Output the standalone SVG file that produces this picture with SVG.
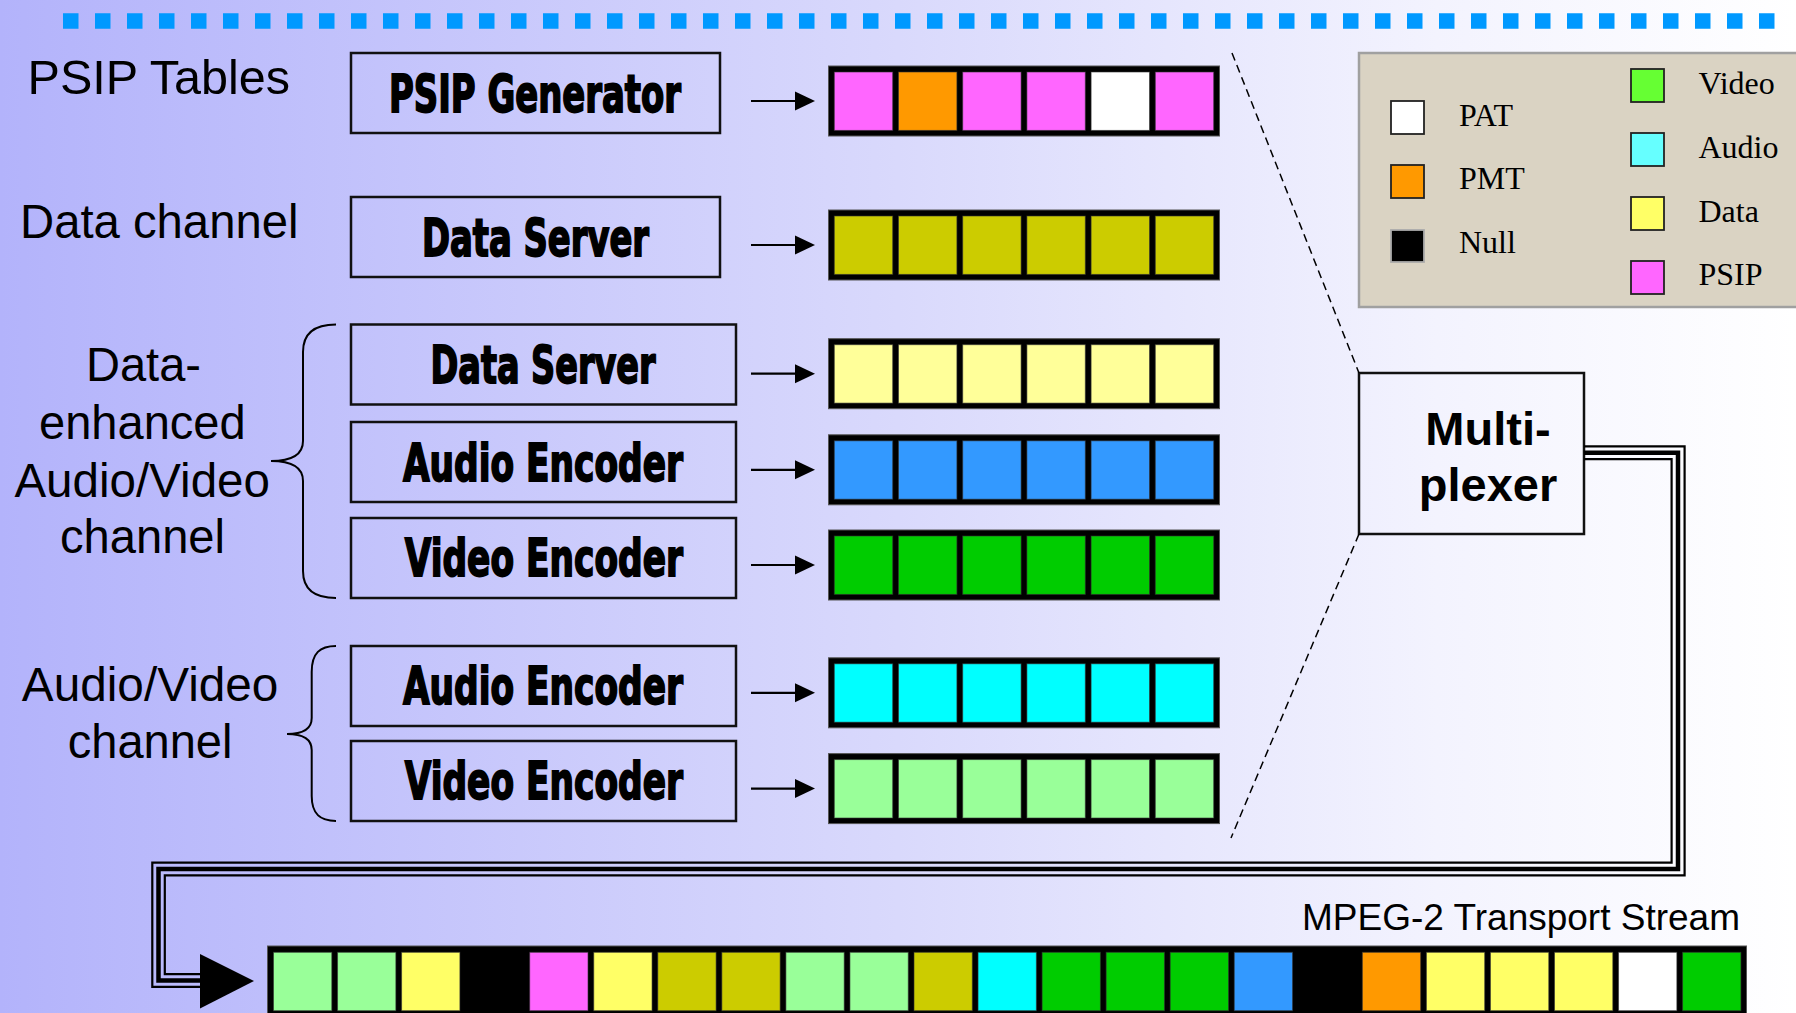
<svg xmlns="http://www.w3.org/2000/svg" width="1796" height="1013" viewBox="0 0 1796 1013">
<defs>
<linearGradient id="bg" x1="0" y1="0" x2="1" y2="0">
<stop offset="0" stop-color="#B3B3FB"/>
<stop offset="0.5" stop-color="#D9D9FC"/>
<stop offset="0.8" stop-color="#F3F3FE"/>
<stop offset="1" stop-color="#FFFFFF"/>
</linearGradient>
<style>
.lbl{font-family:"Liberation Sans",Arial,sans-serif;font-size:48px;fill:#000}
.bt{font-family:"DejaVu Sans Condensed","DejaVu Sans",sans-serif;font-weight:bold;font-size:52px;fill:#000;stroke:#000;stroke-width:1.8px}
.box{fill:none;stroke:#111;stroke-width:2.5}
.bar{fill:#000;stroke:#555;stroke-width:1}
.c{stroke:#333;stroke-width:1;stroke-opacity:0.6}
.arr{stroke:#000;stroke-width:2.2;fill:none}
.ah{fill:#000}
.lg{font-family:"Liberation Serif","Times New Roman",serif;font-size:32px;fill:#000}
.sw{stroke:#222;stroke-width:1.8}
.brace{fill:none;stroke:#000;stroke-width:2}
.dash{fill:none;stroke:#000;stroke-width:1.5;stroke-dasharray:8 5}
.thin{fill:none;stroke:#000;stroke-width:2.2}
.thick{fill:none;stroke:#000;stroke-width:4.5}
.pm{fill:#FF66FF}.po{fill:#FF9900}.pw{fill:#FFFFFF}.ol{fill:#CCCC00}.ly{fill:#FFFF99}.bl{fill:#3399FF}.gr{fill:#00CC00}.cy{fill:#00FFFF}.lgn{fill:#99FF99}.ye{fill:#FFFF66}
</style>
</defs>
<rect x="0" y="0" width="1796" height="1013" fill="url(#bg)"/>
<line x1="63" y1="21" x2="1776" y2="21" stroke="#0099FF" stroke-width="15.7" stroke-dasharray="15.5 16.5"/>

<g id="labels">
<text class="lbl" x="27.6" y="94" textLength="262.4" lengthAdjust="spacingAndGlyphs">PSIP Tables</text>
<text class="lbl" x="20" y="237.7" textLength="278.5" lengthAdjust="spacingAndGlyphs">Data channel</text>
<text class="lbl" x="86" y="381.4" textLength="115" lengthAdjust="spacingAndGlyphs">Data-</text>
<text class="lbl" x="39" y="439" textLength="206.7" lengthAdjust="spacingAndGlyphs">enhanced</text>
<text class="lbl" x="14.4" y="497" textLength="255.6" lengthAdjust="spacingAndGlyphs">Audio/Video</text>
<text class="lbl" x="60" y="553" textLength="165" lengthAdjust="spacingAndGlyphs">channel</text>
<text class="lbl" x="21.8" y="700.6" textLength="256.6" lengthAdjust="spacingAndGlyphs">Audio/Video</text>
<text class="lbl" x="67.7" y="757.7" textLength="164.8" lengthAdjust="spacingAndGlyphs">channel</text>
<path class="brace" d="M336,324.5 C316,324.5 303,332 303,352 L303,441 C303,455 292,461 271,461 C292,461 303,467 303,481 L303,571 C303,591 316,598 336,598"/>
<path class="brace" d="M336,646 C320,646 311.7,653 311.7,672 L311.7,718 C311.7,729 302,734 287,734 C302,734 311.7,739 311.7,750 L311.7,796 C311.7,814 320,821 336,821"/>
</g>

<g id="psip-generator">
<rect class="box" x="351" y="53" width="369" height="80"/>
<text class="bt" x="389" y="111.7" textLength="292" lengthAdjust="spacingAndGlyphs">PSIP Generator</text>
</g>
<g id="data-server-1">
<rect class="box" x="351" y="197" width="369" height="80"/>
<text class="bt" x="422" y="256" textLength="227" lengthAdjust="spacingAndGlyphs">Data Server</text>
</g>
<g id="data-server-2">
<rect class="box" x="351" y="324.5" width="385" height="80"/>
<text class="bt" x="430.5" y="383" textLength="225" lengthAdjust="spacingAndGlyphs">Data Server</text>
</g>
<g id="audio-encoder-1">
<rect class="box" x="351" y="422" width="385" height="80"/>
<text class="bt" x="403" y="480.6" textLength="280" lengthAdjust="spacingAndGlyphs">Audio Encoder</text>
</g>
<g id="video-encoder-1">
<rect class="box" x="351" y="518" width="385" height="80"/>
<text class="bt" x="404.7" y="576" textLength="278.3" lengthAdjust="spacingAndGlyphs">Video Encoder</text>
</g>
<g id="audio-encoder-2">
<rect class="box" x="351" y="646" width="385" height="80"/>
<text class="bt" x="403" y="704" textLength="280" lengthAdjust="spacingAndGlyphs">Audio Encoder</text>
</g>
<g id="video-encoder-2">
<rect class="box" x="351" y="741" width="385" height="80"/>
<text class="bt" x="404.7" y="798.8" textLength="278.3" lengthAdjust="spacingAndGlyphs">Video Encoder</text>
</g>

<g id="bar-psip">
<rect class="bar" x="828.5" y="66" width="391" height="70"/>
<rect class="c pm" x="834.3" y="72" width="58.4" height="58.4"/>
<rect class="c po" x="898.5" y="72" width="58.4" height="58.4"/>
<rect class="c pm" x="962.7" y="72" width="58.4" height="58.4"/>
<rect class="c pm" x="1026.9" y="72" width="58.4" height="58.4"/>
<rect class="c pw" x="1091.1" y="72" width="58.4" height="58.4"/>
<rect class="c pm" x="1155.3" y="72" width="58.4" height="58.4"/>
</g>
<g id="bar-data1">
<rect class="bar" x="828.5" y="210" width="391" height="70"/>
<rect class="c ol" x="834.3" y="216" width="58.4" height="58.4"/>
<rect class="c ol" x="898.5" y="216" width="58.4" height="58.4"/>
<rect class="c ol" x="962.7" y="216" width="58.4" height="58.4"/>
<rect class="c ol" x="1026.9" y="216" width="58.4" height="58.4"/>
<rect class="c ol" x="1091.1" y="216" width="58.4" height="58.4"/>
<rect class="c ol" x="1155.3" y="216" width="58.4" height="58.4"/>
</g>
<g id="bar-data2">
<rect class="bar" x="828.5" y="338.7" width="391" height="70"/>
<rect class="c ly" x="834.3" y="344.7" width="58.4" height="58.4"/>
<rect class="c ly" x="898.5" y="344.7" width="58.4" height="58.4"/>
<rect class="c ly" x="962.7" y="344.7" width="58.4" height="58.4"/>
<rect class="c ly" x="1026.9" y="344.7" width="58.4" height="58.4"/>
<rect class="c ly" x="1091.1" y="344.7" width="58.4" height="58.4"/>
<rect class="c ly" x="1155.3" y="344.7" width="58.4" height="58.4"/>
</g>
<g id="bar-audio1">
<rect class="bar" x="828.5" y="434.8" width="391" height="70"/>
<rect class="c bl" x="834.3" y="440.8" width="58.4" height="58.4"/>
<rect class="c bl" x="898.5" y="440.8" width="58.4" height="58.4"/>
<rect class="c bl" x="962.7" y="440.8" width="58.4" height="58.4"/>
<rect class="c bl" x="1026.9" y="440.8" width="58.4" height="58.4"/>
<rect class="c bl" x="1091.1" y="440.8" width="58.4" height="58.4"/>
<rect class="c bl" x="1155.3" y="440.8" width="58.4" height="58.4"/>
</g>
<g id="bar-video1">
<rect class="bar" x="828.5" y="530" width="391" height="70"/>
<rect class="c gr" x="834.3" y="536" width="58.4" height="58.4"/>
<rect class="c gr" x="898.5" y="536" width="58.4" height="58.4"/>
<rect class="c gr" x="962.7" y="536" width="58.4" height="58.4"/>
<rect class="c gr" x="1026.9" y="536" width="58.4" height="58.4"/>
<rect class="c gr" x="1091.1" y="536" width="58.4" height="58.4"/>
<rect class="c gr" x="1155.3" y="536" width="58.4" height="58.4"/>
</g>
<g id="bar-audio2">
<rect class="bar" x="828.5" y="657.8" width="391" height="70"/>
<rect class="c cy" x="834.3" y="663.8" width="58.4" height="58.4"/>
<rect class="c cy" x="898.5" y="663.8" width="58.4" height="58.4"/>
<rect class="c cy" x="962.7" y="663.8" width="58.4" height="58.4"/>
<rect class="c cy" x="1026.9" y="663.8" width="58.4" height="58.4"/>
<rect class="c cy" x="1091.1" y="663.8" width="58.4" height="58.4"/>
<rect class="c cy" x="1155.3" y="663.8" width="58.4" height="58.4"/>
</g>
<g id="bar-video2">
<rect class="bar" x="828.5" y="753.6" width="391" height="70"/>
<rect class="c lgn" x="834.3" y="759.6" width="58.4" height="58.4"/>
<rect class="c lgn" x="898.5" y="759.6" width="58.4" height="58.4"/>
<rect class="c lgn" x="962.7" y="759.6" width="58.4" height="58.4"/>
<rect class="c lgn" x="1026.9" y="759.6" width="58.4" height="58.4"/>
<rect class="c lgn" x="1091.1" y="759.6" width="58.4" height="58.4"/>
<rect class="c lgn" x="1155.3" y="759.6" width="58.4" height="58.4"/>
</g>

<g id="legend">
<rect x="1359" y="53" width="460" height="254" fill="#DAD3C3" stroke="#A0A0A0" stroke-width="2.5"/>
<rect class="sw" x="1391" y="101" width="33" height="33" fill="#FFFFFF"/>
<rect class="sw" x="1391" y="165" width="33" height="33" fill="#FF9900"/>
<rect x="1391" y="230" width="33" height="32" fill="#000" stroke="#AAA" stroke-width="1.8"/>
<text class="lg" x="1459" y="126">PAT</text>
<text class="lg" x="1459" y="188.5">PMT</text>
<text class="lg" x="1459" y="253.3">Null</text>
<rect class="sw" x="1631" y="69" width="33" height="33" fill="#66FF33"/>
<rect class="sw" x="1631" y="133" width="33" height="33" fill="#66FFFF"/>
<rect class="sw" x="1631" y="197" width="33" height="33" fill="#FFFF66"/>
<rect class="sw" x="1631" y="261" width="33" height="33" fill="#FF66FF"/>
<text class="lg" x="1698.5" y="94">Video</text>
<text class="lg" x="1698.5" y="158.3">Audio</text>
<text class="lg" x="1698.5" y="221.7">Data</text>
<text class="lg" x="1698.5" y="285">PSIP</text>
</g>

<g id="multiplexer">
<rect class="box" x="1359" y="373" width="225" height="161"/>
<text x="1488" y="444.8" text-anchor="middle" font-family="Liberation Sans, Arial, sans-serif" font-weight="bold" font-size="47">Multi-</text>
<text x="1488" y="501" text-anchor="middle" font-family="Liberation Sans, Arial, sans-serif" font-weight="bold" font-size="47">plexer</text>
</g>

<g id="transport-stream">
<text x="1740" y="930" text-anchor="end" font-family="Liberation Sans, Arial, sans-serif" font-size="37">MPEG-2 Transport Stream</text>
<rect class="bar" x="267.5" y="946" width="1479" height="80"/>
<rect class="c lgn" x="273.5" y="952.3" width="58.3" height="58.4"/>
<rect class="c lgn" x="337.55" y="952.3" width="58.3" height="58.4"/>
<rect class="c ye" x="401.6" y="952.3" width="58.3" height="58.4"/>
<rect class="c pm" x="529.7" y="952.3" width="58.3" height="58.4"/>
<rect class="c ye" x="593.75" y="952.3" width="58.3" height="58.4"/>
<rect class="c ol" x="657.8" y="952.3" width="58.3" height="58.4"/>
<rect class="c ol" x="721.85" y="952.3" width="58.3" height="58.4"/>
<rect class="c lgn" x="785.9" y="952.3" width="58.3" height="58.4"/>
<rect class="c lgn" x="849.95" y="952.3" width="58.3" height="58.4"/>
<rect class="c ol" x="914" y="952.3" width="58.3" height="58.4"/>
<rect class="c cy" x="978.05" y="952.3" width="58.3" height="58.4"/>
<rect class="c gr" x="1042.1" y="952.3" width="58.3" height="58.4"/>
<rect class="c gr" x="1106.15" y="952.3" width="58.3" height="58.4"/>
<rect class="c gr" x="1170.2" y="952.3" width="58.3" height="58.4"/>
<rect class="c bl" x="1234.25" y="952.3" width="58.3" height="58.4"/>
<rect class="c po" x="1362.35" y="952.3" width="58.3" height="58.4"/>
<rect class="c ye" x="1426.4" y="952.3" width="58.3" height="58.4"/>
<rect class="c ye" x="1490.45" y="952.3" width="58.3" height="58.4"/>
<rect class="c ye" x="1554.5" y="952.3" width="58.3" height="58.4"/>
<rect class="c pw" x="1618.55" y="952.3" width="58.3" height="58.4"/>
<rect class="c gr" x="1682.6" y="952.3" width="58.3" height="58.4"/>
</g>

<g id="connectors">
<line class="arr" x1="751" y1="101" x2="797" y2="101"/><polygon class="ah" points="795,91.5 815,101 795,110.5"/>
<line class="arr" x1="751" y1="245" x2="797" y2="245"/><polygon class="ah" points="795,235.5 815,245 795,254.5"/>
<line class="arr" x1="751" y1="373.7" x2="797" y2="373.7"/><polygon class="ah" points="795,364.2 815,373.7 795,383.2"/>
<line class="arr" x1="751" y1="469.8" x2="797" y2="469.8"/><polygon class="ah" points="795,460.3 815,469.8 795,479.3"/>
<line class="arr" x1="751" y1="565" x2="797" y2="565"/><polygon class="ah" points="795,555.5 815,565 795,574.5"/>
<line class="arr" x1="751" y1="692.8" x2="797" y2="692.8"/><polygon class="ah" points="795,683.3 815,692.8 795,702.3"/>
<line class="arr" x1="751" y1="788.6" x2="797" y2="788.6"/><polygon class="ah" points="795,779.1 815,788.6 795,798.1"/>
<line class="dash" x1="1232" y1="53" x2="1359" y2="373"/>
<line class="dash" x1="1359" y1="534" x2="1231" y2="838"/>
<path class="thick" d="M1584,452.7 H1678 V869 H158.5 V980.5 H202"/>
<path class="thin" d="M1584,446.3 H1684.6 V875.4 H164.8 V974.2 H202"/>
<path class="thin" d="M1584,459.2 H1671.6 V862.6 H152.3 V986.8 H202"/>
<polygon class="ah" points="200,954 200,1008.5 254,981"/>
</g>
</svg>
